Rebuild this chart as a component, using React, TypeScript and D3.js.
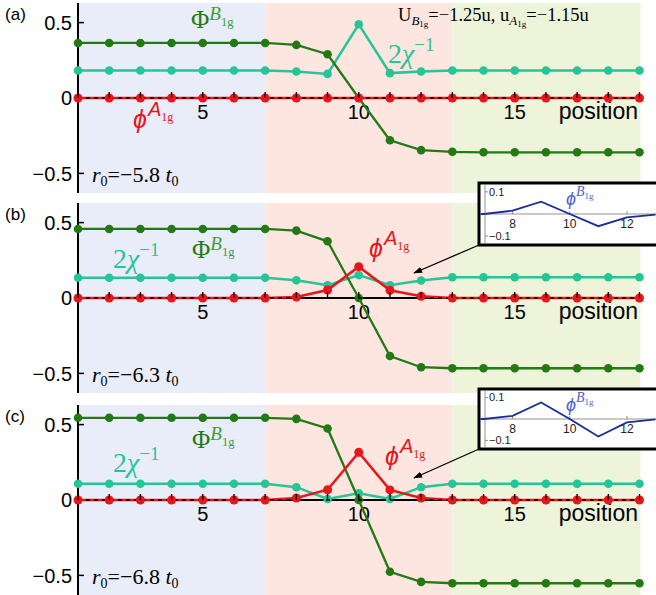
import React from 'react';
import * as d3 from 'd3';

// lattice positions and the three fields for each panel
const positions = [1, 2, 3, 4, 5, 6, 7, 8, 9, 10, 11, 12, 13, 14, 15, 16, 17, 18, 19];
const xTickLabels = [5, 10, 15];
const yTickValues = [0.5, 0, -0.5];
const yTickLabels = ['0.5', '0', '\u22120.5'];

const phiBA = [0.365, 0.365, 0.365, 0.365, 0.365, 0.365, 0.365, 0.352, 0.29, 0, -0.28, -0.346, -0.357, -0.36, -0.36, -0.36, -0.36, -0.36, -0.36];
const chiA = [0.182, 0.182, 0.182, 0.182, 0.182, 0.182, 0.182, 0.176, 0.16, 0.489, 0.165, 0.176, 0.182, 0.182, 0.182, 0.182, 0.182, 0.182, 0.182];
const phiAA = [0, 0, 0, 0, 0, 0, 0, 0, 0, 0, 0, 0, 0, 0, 0, 0, 0, 0, 0];

const phiBB = [0.458, 0.458, 0.458, 0.458, 0.458, 0.458, 0.458, 0.447, 0.376, 0, -0.385, -0.459, -0.466, -0.466, -0.466, -0.466, -0.466, -0.466, -0.466];
const chiB = [0.134, 0.134, 0.134, 0.134, 0.134, 0.134, 0.134, 0.118, 0.084, 0.152, 0.085, 0.116, 0.138, 0.138, 0.138, 0.138, 0.138, 0.138, 0.138];
const phiAB = [0, 0, 0, 0, 0, 0, 0, 0.007, 0.053, 0.208, 0.051, 0.011, 0, 0, 0, 0, 0, 0, 0];

const phiBC = [0.545, 0.545, 0.545, 0.545, 0.545, 0.545, 0.545, 0.538, 0.474, 0, -0.476, -0.543, -0.552, -0.552, -0.552, -0.552, -0.552, -0.552, -0.552];
const chiC = [0.108, 0.108, 0.108, 0.108, 0.108, 0.108, 0.108, 0.085, 0.007, 0.044, 0.007, 0.085, 0.108, 0.108, 0.108, 0.108, 0.108, 0.108, 0.108];
const phiAC = [0, 0, 0, 0, 0, 0, 0, 0.013, 0.068, 0.316, 0.067, 0.013, 0, 0, 0, 0, 0, 0, 0];

// insets: small phi^B1g component
const insetPositions = [6, 7, 8, 9, 10, 11, 12, 13];
const insetB = [0, 0, 0.015, 0.056, 0, -0.055, -0.015, -0.003];
const insetC = [0, 0, 0.015, 0.077, 0, -0.082, -0.016, -0.002];
const insetXTicks = [8, 10, 12];
const insetYTicks = [0.1, -0.1];
const insetYLabels = ['0.1', '\u22120.1'];

const regions = [
  { from: 1, to: 7, color: '#e8edf9' },
  { from: 7, to: 13, color: '#fde6e0' },
  { from: 13, to: 19, color: '#eef4da' },
];

const C_GREEN = '#237a14';
const C_GREEN_L = '#3f9c3c';
const C_TEAL = '#26c496';
const C_RED = '#e8161b';
const C_BLUE = '#1c2c9c';
const C_BLUE_L = '#5062cc';
const SANS = '"Liberation Sans", Arial, Helvetica, sans-serif';
const SERIF = '"Liberation Serif", "Times New Roman", serif';
const PHI = '\u03D5';

const x = d3.scaleLinear().domain([1, 19]).range([78, 639.5]);

const panels = [
  {
    key: 'a', top: 3, bottom: 193, phiB: phiBA, chi: chiA, phiA: phiAA, r0: '5.8',
    phiBLabel: [191, 28], chiLabel: [388, 63], phiALabel: [133, 128], inset: null,
  },
  {
    key: 'b', top: 203, bottom: 393, phiB: phiBB, chi: chiB, phiA: phiAB, r0: '6.3',
    phiBLabel: [192, 258], chiLabel: [113, 268], phiALabel: [369, 257],
    inset: { top: 183, height: 62, data: insetB, arrow: [406, 277] },
  },
  {
    key: 'c', top: 405, bottom: 595, phiB: phiBC, chi: chiC, phiA: phiAC, r0: '6.8',
    phiBLabel: [192, 448], chiLabel: [113, 472], phiALabel: [385, 465],
    inset: { top: 389, height: 60, data: insetC, arrow: [406, 482] },
  },
];

const PhiB = ({ px, py, size = 25 }: { px: number; py: number; size?: number }) => (
  <text x={px} y={py} fontFamily={SERIF} fontSize={size} fill={C_GREEN}>
    {'\u03A6'}
    <tspan fill={C_GREEN_L} fontStyle="italic" fontSize={size * 0.76} dy={-size * 0.34}>B</tspan>
    <tspan fill={C_GREEN_L} fontSize={size * 0.5} dy={size * 0.26}>1g</tspan>
  </text>
);

const Chi = ({ px, py }: { px: number; py: number }) => (
  <text x={px} y={py} fontFamily={SERIF} fontSize={28} fill={C_TEAL}>
    2<tspan fontStyle="italic">{'\u03C7'}</tspan>
    <tspan fontSize={19} dy={-12}>{'\u22121'}</tspan>
  </text>
);

const PhiA = ({ px, py }: { px: number; py: number }) => (
  <text x={px} y={py} fontFamily={SANS} fontSize={25} fill={C_RED}>
    <tspan fontStyle="italic">{PHI}</tspan>
    <tspan fontStyle="italic" fontSize={20} dy={-12} dx={1}>A</tspan>
    <tspan fontFamily={SERIF} fontSize={12} dy={5}>1g</tspan>
  </text>
);

const Panel = ({ p }: { p: typeof panels[number] }) => {
  const y = d3.scaleLinear().domain([-0.63, 0.63]).range([p.bottom, p.top]);
  const y0 = y(0);
  const line = (vals: number[]) =>
    d3.line<number>().x((_, i) => x(positions[i])).y((v) => y(v))(vals) || '';
  const dots = (vals: number[], color: string, r: number) =>
    vals.map((v, i) => <circle key={i} cx={x(positions[i])} cy={y(v)} r={r} fill={color} />);

  let inset = null;
  if (p.inset) {
    const ins = p.inset;
    const ix = d3.scaleLinear().domain([7, 13]).range([484, 655.5]);
    const iy = d3.scaleLinear().domain([-0.14, 0.14]).range([ins.top + ins.height, ins.top]);
    const iLine = d3.line<number>().x((_, i) => ix(insetPositions[i])).y((v) => iy(v))(ins.data) || '';
    const clipId = `inset-clip-${p.key}`;
    inset = (
      <g>
        <line x1={479} y1={ins.top + ins.height} x2={ins.arrow[0] + 8} y2={ins.arrow[1] - 4}
          stroke="#000" strokeWidth={1.3} markerEnd="url(#arrowhead)" />
        <rect x={479} y={ins.top} width={200} height={ins.height} fill="#fff" stroke="#000" strokeWidth={3} />
        <clipPath id={clipId}>
          <rect x={480.5} y={ins.top + 1.5} width={200} height={ins.height - 3} />
        </clipPath>
        <g clipPath={`url(#${clipId})`}>
          <line x1={485} x2={485} y1={ins.top} y2={ins.top + ins.height} stroke="#777" strokeWidth={0.8} />
          <line x1={480} x2={660} y1={iy(0)} y2={iy(0)} stroke="#777" strokeWidth={0.8} />
          {insetYTicks.map((t, i) => (
            <g key={t}>
              <line x1={485} x2={488} y1={iy(t)} y2={iy(t)} stroke="#777" strokeWidth={0.8} />
              <text x={489} y={iy(t)} dy="0.35em" fontFamily={SANS} fontSize={11} fill="#222">{insetYLabels[i]}</text>
            </g>
          ))}
          {insetXTicks.map((t) => (
            <g key={t}>
              <line x1={ix(t)} x2={ix(t)} y1={iy(0)} y2={iy(0) - 3} stroke="#777" strokeWidth={0.8} />
              <text x={ix(t)} y={iy(0) + 14} textAnchor="middle" fontFamily={SANS} fontSize={12} fill="#222">{t}</text>
            </g>
          ))}
          <path d={iLine} fill="none" stroke={C_BLUE} strokeWidth={1.8} />
          <text x={566} y={ins.top + 22} fontFamily={SANS} fontSize={18} fill={C_BLUE_L}>
            <tspan fontStyle="italic">{PHI}</tspan>
            <tspan fontFamily={SERIF} fontStyle="italic" fontSize={14} dy={-9}>B</tspan>
            <tspan fontFamily={SERIF} fontSize={9} dy={3}>1g</tspan>
          </text>
        </g>
      </g>
    );
  }

  return (
    <g>
      {regions.map((r) => (
        <rect key={r.from} x={x(r.from)} y={p.top} width={x(r.to) - x(r.from) + (r.to === 19 ? 1 : 0)}
          height={p.bottom - p.top} fill={r.color} />
      ))}
      {/* axes */}
      <line x1={78} x2={x(19) + 1} y1={y0} y2={y0} stroke="#000" strokeWidth={2} />
      <line x1={78} x2={78} y1={p.top} y2={p.bottom} stroke="#000" strokeWidth={2} />
      {yTickValues.map((t, i) => (
        <g key={t}>
          {t !== 0 && <line x1={78} x2={84} y1={y(t)} y2={y(t)} stroke="#000" strokeWidth={1.5} />}
          <text x={72} y={y(t)} dy="0.36em" textAnchor="end" fontFamily={SANS} fontSize={20}>{yTickLabels[i]}</text>
        </g>
      ))}
      {xTickLabels.map((t) => (
        <text key={t} x={x(t)} y={y0 + 21} textAnchor="middle" fontFamily={SANS} fontSize={20}>{t}</text>
      ))}
      <text x={638} y={y0 + 21} textAnchor="end" fontFamily={SANS} fontSize={23}>position</text>

      {/* series */}
      <path d={line(p.chi)} fill="none" stroke={C_TEAL} strokeWidth={2.5} />
      {dots(p.chi, C_TEAL, 4.3)}
      <path d={line(p.phiB)} fill="none" stroke={C_GREEN} strokeWidth={2.3} />
      {dots(p.phiB, C_GREEN, 4.3)}
      <path d={line(p.phiA)} fill="none" stroke={C_RED} strokeWidth={2.5} />
      <line x1={78} x2={x(19)} y1={y0} y2={y0} stroke="#000" strokeWidth={1.4} strokeDasharray="4 4" />
      {dots(p.phiA, C_RED, 4.5)}
      {positions.map((pos) => (
        <line key={pos} x1={x(pos)} x2={x(pos)} y1={y0} y2={y0 - 6} stroke="#000" strokeWidth={1.3} />
      ))}

      {/* annotations */}
      <text x={5} y={p.top + 17} fontFamily={SANS} fontSize={17}>({p.key})</text>
      <PhiB px={p.phiBLabel[0]} py={p.phiBLabel[1]} />
      <Chi px={p.chiLabel[0]} py={p.chiLabel[1]} />
      <PhiA px={p.phiALabel[0]} py={p.phiALabel[1]} />
      <text x={92} y={p.bottom - 11} fontFamily={SERIF} fontSize={22}>
        <tspan fontStyle="italic">r</tspan>
        <tspan fontSize={14} dy={4}>0</tspan>
        <tspan dy={-4}>{'=\u2212' + p.r0 + ' '}</tspan>
        <tspan fontStyle="italic">t</tspan>
        <tspan fontSize={14} dy={4}>0</tspan>
      </text>
      {inset}
    </g>
  );
};

export default function App() {
  return (
    <svg width={656} height={595} viewBox="0 0 656 595"
      style={{ position: 'absolute', left: 0, top: 0, background: '#fff' }}>
      <defs>
        <marker id="arrowhead" viewBox="0 0 10 10" refX={9} refY={5} markerWidth={9} markerHeight={9}
          orient="auto" markerUnits="userSpaceOnUse">
          <path d="M0,1.5 L10,5 L0,8.5 Z" fill="#000" />
        </marker>
      </defs>
      {panels.map((p) => <Panel key={p.key} p={p} />)}
      <text x={398} y={21} fontFamily={SERIF} fontSize={18.5}>
        U<tspan fontStyle="italic" fontSize={13} dy={4}>B</tspan>
        <tspan fontSize={9} dy={2}>1g</tspan>
        <tspan dy={-6}>{'=\u22121.25u, u'}</tspan>
        <tspan fontStyle="italic" fontSize={13} dy={4}>A</tspan>
        <tspan fontSize={9} dy={2}>1g</tspan>
        <tspan dy={-6}>{'=\u22121.15u'}</tspan>
      </text>
    </svg>
  );
}
